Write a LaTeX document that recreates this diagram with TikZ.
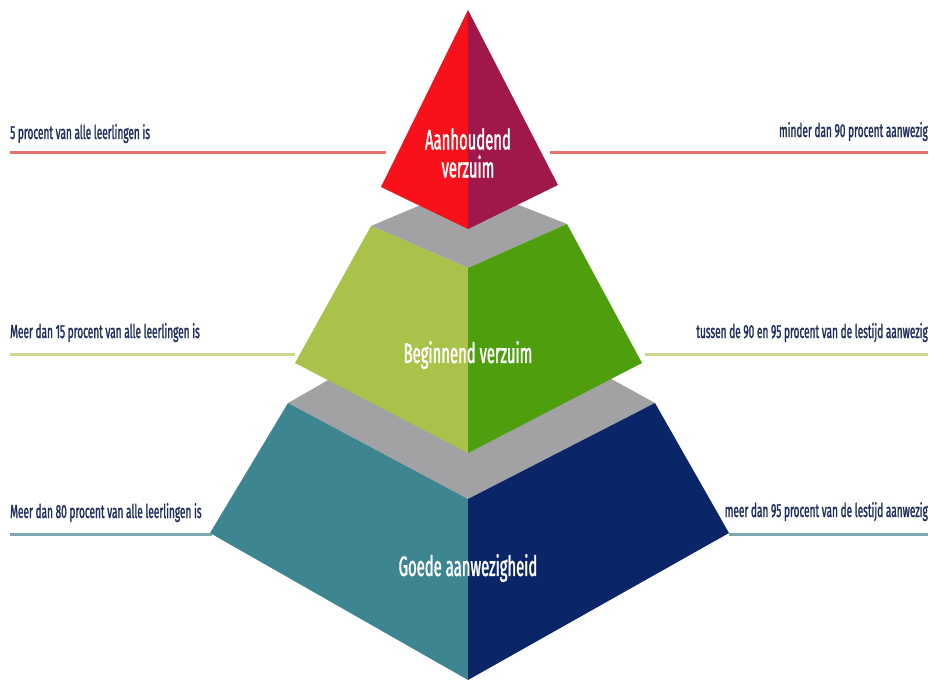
\documentclass[tikz,border=0pt]{standalone}
\usepackage{fontspec}
\newfontfamily\cond[FakeStretch=0.55]{Fira Sans}
\newfontfamily\condb[FakeStretch=0.53,FakeBold=1.3]{Fira Sans}
\definecolor{redL}{HTML}{F8101A}
\definecolor{redR}{HTML}{A0174A}
\definecolor{grayT}{HTML}{A2A2A4}
\definecolor{grnL}{HTML}{A8C24A}
\definecolor{grnR}{HTML}{4E9E0E}
\definecolor{tealL}{HTML}{3D8590}
\definecolor{navyR}{HTML}{0A2668}
\definecolor{lineRed}{HTML}{E8726C}
\definecolor{lineGrn}{HTML}{C9D98E}
\definecolor{lineTeal}{HTML}{7EA7AD}
\definecolor{txt}{HTML}{1E2D5C}
\tikzset{
  sidelabel/.style={font=\condb\fontsize{19}{21}\selectfont, text=txt, inner sep=0pt},
  tierlabel/.style={font=\condb\fontsize{28}{30}\selectfont, text=white, inner sep=0pt, align=center},
  guide/.style={line width=3pt}
}
\begin{document}
\begin{tikzpicture}[x=1pt,y=-1pt]
\useasboundingbox (0,0) rectangle (930,680);
\fill[white] (0,0) rectangle (930,680);

% guide lines
\coordinate (r1) at (10,152); \coordinate (r2) at (386,152);
\coordinate (r3) at (550,152); \coordinate (r4) at (928,152);
\coordinate (g1) at (10,354); \coordinate (g2) at (295,354);
\coordinate (g3) at (645,354); \coordinate (g4) at (928,354);
\coordinate (t1) at (10,534); \coordinate (t2) at (212,534);
\coordinate (t3) at (729,534); \coordinate (t4) at (928,534);
\draw[guide, lineRed] (r1) -- (r2);
\draw[guide, lineRed] (r3) -- (r4);
\draw[guide, lineGrn] (g1) -- (g2);
\draw[guide, lineGrn] (g3) -- (g4);
\draw[guide, lineTeal] (t1) -- (t2);
\draw[guide, lineTeal] (t3) -- (t4);

% side labels
\node[sidelabel, anchor=base west] (la) at (10,139) {5 procent van alle leerlingen is};
\node[sidelabel, anchor=base east] (ra) at (928,137) {minder dan 90 procent aanwezig};
\node[sidelabel, anchor=base west] (lb) at (10,338) {Meer dan 15 procent van alle leerlingen is};
\node[sidelabel, anchor=base east] (rb) at (928,338) {tussen de 90 en 95 procent van de lestijd aanwezig};
\node[sidelabel, anchor=base west] (lc) at (10,518) {Meer dan 80 procent van alle leerlingen is};
\node[sidelabel, anchor=base east] (rc) at (928,517) {meer dan 95 procent van de lestijd aanwezig};

% bottom tier
\coordinate (cTL) at (288,403); \coordinate (cTF) at (468,499);
\coordinate (cTR) at (655,403); \coordinate (cTB) at (468,300);
\coordinate (cOL) at (210,533); \coordinate (cOR) at (729,533);
\coordinate (cBot) at (468,680);
\fill[grayT] (cTL) -- (cTB) -- (cTR) -- (cTF) -- cycle;
\fill[tealL] (cTL) -- (cTF) -- (cBot) -- (cOL) -- cycle;
\fill[navyR] (cTF) -- (cTR) -- (cOR) -- (cBot) -- cycle;

% middle tier
\coordinate (bTL) at (371,226); \coordinate (bTF) at (468,268);
\coordinate (bTR) at (567,224); \coordinate (bTB) at (468,185);
\coordinate (bOL) at (295,363); \coordinate (bOR) at (642,363);
\coordinate (bBot) at (468,453);
\fill[grayT] (bTL) -- (bTB) -- (bTR) -- (bTF) -- cycle;
\fill[grnL] (bTL) -- (bTF) -- (bBot) -- (bOL) -- cycle;
\fill[grnR] (bTF) -- (bTR) -- (bOR) -- (bBot) -- cycle;

% top pyramid
\coordinate (aApex) at (468,10);
\coordinate (aL) at (381,187); \coordinate (aR) at (558,185);
\coordinate (aBot) at (468,229);
\fill[redL] (aApex) -- (aBot) -- (aL) -- cycle;
\fill[redR] (aApex) -- (aR) -- (aBot) -- cycle;

% tier labels
\node[tierlabel] (ta) at (468,153) {Aanhoudend\\[-2pt]verzuim};
\node[tierlabel] (tb) at (468,355) {Beginnend verzuim};
\node[tierlabel] (tc) at (468,568) {Goede aanwezigheid};
\end{tikzpicture}
\end{document}
